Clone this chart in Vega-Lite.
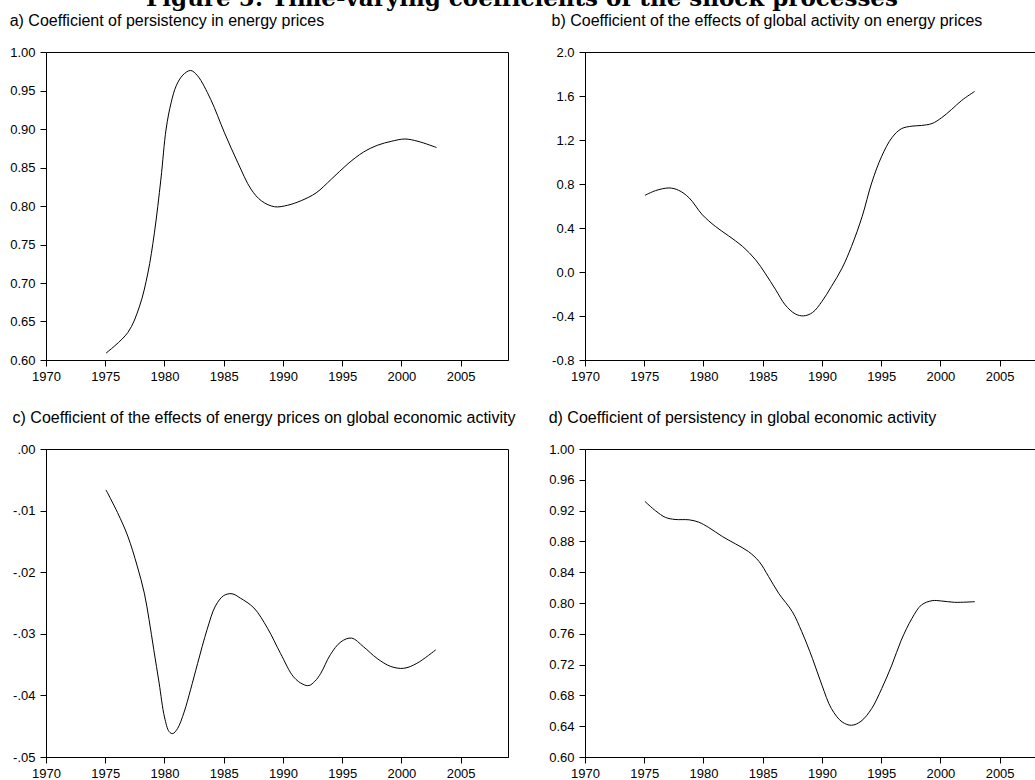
{
  "$schema": "https://vega.github.io/schema/vega-lite/v6.json",
  "padding": {"left": 9, "top": -13, "right": 0, "bottom": 0},
  "background": "white",
  "title": {"text": "Figure 5: Time-varying coefficients of the shock processes", "font": "DejaVu Serif", "fontSize": 23, "fontWeight": "bold", "color": "black", "anchor": "start", "frame": "group", "dx": 100, "offset": 2},
  "bounds": "flush",
  "columns": 2,
  "spacing": {"row": 89, "column": 77},
  "datasets": {
    "a": [
      {"year": 1975.07, "v": 0.609}, {"year": 1976.9, "v": 0.6355}, {"year": 1977.9, "v": 0.670}, {"year": 1978.6, "v": 0.713},
      {"year": 1979.15, "v": 0.765}, {"year": 1979.7, "v": 0.835}, {"year": 1980.14, "v": 0.900}, {"year": 1980.56, "v": 0.934},
      {"year": 1980.99, "v": 0.956}, {"year": 1981.55, "v": 0.970}, {"year": 1982.2, "v": 0.976}, {"year": 1982.8, "v": 0.969}, {"year": 1983.9, "v": 0.9385},
      {"year": 1985.07, "v": 0.895}, {"year": 1986.2, "v": 0.856}, {"year": 1987.3, "v": 0.822}, {"year": 1988.2, "v": 0.8065},
      {"year": 1989.3, "v": 0.799}, {"year": 1990.4, "v": 0.801}, {"year": 1991.55, "v": 0.807}, {"year": 1992.8, "v": 0.817},
      {"year": 1994.1, "v": 0.835}, {"year": 1995.5, "v": 0.855}, {"year": 1996.8, "v": 0.870}, {"year": 1998.0, "v": 0.879},
      {"year": 1999.15, "v": 0.884}, {"year": 2000.3, "v": 0.887}, {"year": 2001.4, "v": 0.884}, {"year": 2002.96, "v": 0.876}
    ],
    "b": [
      {"year": 1975.06, "v": 0.697}, {"year": 1975.96, "v": 0.740}, {"year": 1977.1, "v": 0.764}, {"year": 1977.9, "v": 0.743},
      {"year": 1978.8, "v": 0.673}, {"year": 1979.9, "v": 0.521}, {"year": 1981.0, "v": 0.415}, {"year": 1982.1, "v": 0.330},
      {"year": 1983.3, "v": 0.233}, {"year": 1984.4, "v": 0.111}, {"year": 1985.2, "v": -0.010}, {"year": 1986.1, "v": -0.162},
      {"year": 1986.9, "v": -0.299}, {"year": 1987.75, "v": -0.381}, {"year": 1988.45, "v": -0.399}, {"year": 1989.2, "v": -0.369},
      {"year": 1990.0, "v": -0.268}, {"year": 1990.8, "v": -0.132}, {"year": 1991.7, "v": 0.035}, {"year": 1992.5, "v": 0.233},
      {"year": 1993.4, "v": 0.506}, {"year": 1994.2, "v": 0.810}, {"year": 1995.05, "v": 1.053}, {"year": 1995.9, "v": 1.220},
      {"year": 1996.7, "v": 1.302}, {"year": 1997.6, "v": 1.326}, {"year": 1998.4, "v": 1.332}, {"year": 1999.3, "v": 1.350},
      {"year": 2000.1, "v": 1.402}, {"year": 2000.95, "v": 1.478}, {"year": 2001.8, "v": 1.560}, {"year": 2002.9, "v": 1.642}
    ],
    "c": [
      {"year": 1975.06, "v": -0.00663}, {"year": 1976.04, "v": -0.01033}, {"year": 1976.9, "v": -0.01413}, {"year": 1977.7, "v": -0.0190},
      {"year": 1978.3, "v": -0.0234}, {"year": 1978.7, "v": -0.0277}, {"year": 1979.1, "v": -0.0326}, {"year": 1979.55, "v": -0.0380},
      {"year": 1980.0, "v": -0.0435}, {"year": 1980.4, "v": -0.0459}, {"year": 1980.7, "v": -0.0462}, {"year": 1981.1, "v": -0.0454},
      {"year": 1981.66, "v": -0.0427}, {"year": 1982.2, "v": -0.0391}, {"year": 1982.8, "v": -0.0348}, {"year": 1983.6, "v": -0.0293},
      {"year": 1984.3, "v": -0.0255}, {"year": 1985.0, "v": -0.0238}, {"year": 1985.7, "v": -0.0235}, {"year": 1986.4, "v": -0.0242},
      {"year": 1987.55, "v": -0.0258}, {"year": 1988.7, "v": -0.0291}, {"year": 1989.8, "v": -0.0332}, {"year": 1990.9, "v": -0.0370},
      {"year": 1991.7, "v": -0.0382}, {"year": 1992.2, "v": -0.0384}, {"year": 1992.7, "v": -0.0377}, {"year": 1993.2, "v": -0.0364}, {"year": 1994.0, "v": -0.0334},
      {"year": 1994.9, "v": -0.0313}, {"year": 1995.8, "v": -0.0307}, {"year": 1996.8, "v": -0.0321}, {"year": 1997.95, "v": -0.0340},
      {"year": 1999.1, "v": -0.0353}, {"year": 2000.2, "v": -0.0356}, {"year": 2001.3, "v": -0.0348}, {"year": 2002.9, "v": -0.0326}
    ],
    "d": [
      {"year": 1975.06, "v": 0.9319}, {"year": 1975.96, "v": 0.9197}, {"year": 1976.8, "v": 0.9111}, {"year": 1977.6, "v": 0.9085},
      {"year": 1978.8, "v": 0.9080}, {"year": 1979.6, "v": 0.905}, {"year": 1980.45, "v": 0.898}, {"year": 1981.6, "v": 0.8863},
      {"year": 1982.7, "v": 0.8768}, {"year": 1983.8, "v": 0.8668}, {"year": 1984.7, "v": 0.8538}, {"year": 1985.5, "v": 0.8343},
      {"year": 1986.35, "v": 0.8126}, {"year": 1987.5, "v": 0.7887}, {"year": 1988.3, "v": 0.7627}, {"year": 1989.2, "v": 0.7280},
      {"year": 1990.0, "v": 0.6933}, {"year": 1990.8, "v": 0.6629}, {"year": 1991.7, "v": 0.6456}, {"year": 1992.5, "v": 0.6412},
      {"year": 1993.3, "v": 0.6464}, {"year": 1994.2, "v": 0.6629}, {"year": 1995.05, "v": 0.6889}, {"year": 1995.9, "v": 0.7193},
      {"year": 1996.7, "v": 0.7518}, {"year": 1997.6, "v": 0.7800}, {"year": 1998.4, "v": 0.7974}, {"year": 1999.3, "v": 0.8030},
      {"year": 2000.1, "v": 0.8026}, {"year": 2001.2, "v": 0.8009}, {"year": 2002.9, "v": 0.8017}
    ]
  },
  "concat": [
    {
      "data": {"name": "a"}, "width": 462, "height": 308,
      "title": {"text": "a) Coefficient of persistency in energy prices"},
      "mark": {"type": "line", "color": "black", "strokeWidth": 1, "interpolate": "catmull-rom"},
      "encoding": {
        "x": {"field": "year", "type": "quantitative", "scale": {"domain": [1970, 2009], "nice": false, "zero": false}},
        "y": {"field": "v", "type": "quantitative", "scale": {"domain": [0.6, 1.0], "nice": false, "zero": false},
              "axis": {"values": [0.6, 0.65, 0.7, 0.75, 0.8, 0.85, 0.9, 0.95, 1.0], "format": ".2f"}}
      }
    },
    {
      "data": {"name": "b"}, "width": 462, "height": 308,
      "title": {"text": "b) Coefficient of the effects of global activity on energy prices"},
      "mark": {"type": "line", "color": "black", "strokeWidth": 1, "interpolate": "catmull-rom"},
      "encoding": {
        "x": {"field": "year", "type": "quantitative", "scale": {"domain": [1970, 2009], "nice": false, "zero": false}},
        "y": {"field": "v", "type": "quantitative", "scale": {"domain": [-0.8, 2.0], "nice": false, "zero": false},
              "axis": {"values": [-0.8, -0.4, 0.0, 0.4, 0.8, 1.2, 1.6, 2.0], "labelExpr": "replace(format(datum.value, '.1f'), '\u2212', '-')"}}
      }
    },
    {
      "data": {"name": "c"}, "width": 462, "height": 308,
      "title": {"text": "c) Coefficient of the effects of energy prices on global economic activity"},
      "mark": {"type": "line", "color": "black", "strokeWidth": 1, "interpolate": "catmull-rom"},
      "encoding": {
        "x": {"field": "year", "type": "quantitative", "scale": {"domain": [1970, 2009], "nice": false, "zero": false}},
        "y": {"field": "v", "type": "quantitative", "scale": {"domain": [-0.05, 0.0], "nice": false, "zero": false},
              "axis": {"values": [-0.05, -0.04, -0.03, -0.02, -0.01, 0.0], "labelExpr": "replace(replace(format(datum.value, '.2f'), '\u2212', '-'), '0.', '.')"}}
      }
    },
    {
      "data": {"name": "d"}, "width": 462, "height": 308,
      "title": {"text": "d) Coefficient of persistency in global economic activity"},
      "mark": {"type": "line", "color": "black", "strokeWidth": 1, "interpolate": "catmull-rom"},
      "encoding": {
        "x": {"field": "year", "type": "quantitative", "scale": {"domain": [1970, 2009], "nice": false, "zero": false}},
        "y": {"field": "v", "type": "quantitative", "scale": {"domain": [0.6, 1.0], "nice": false, "zero": false},
              "axis": {"values": [0.6, 0.64, 0.68, 0.72, 0.76, 0.8, 0.84, 0.88, 0.92, 0.96, 1.0], "format": ".2f"}}
      }
    }
  ],
  "config": {
    "view": {"stroke": "black", "strokeWidth": 1},
    "title": {"font": "Liberation Sans", "fontSize": 16, "fontWeight": "normal", "color": "black", "anchor": "start", "frame": "bounds", "offset": 17},
    "axis": {"grid": false, "title": null, "domainColor": "black", "tickColor": "black", "labelColor": "black", "labelFont": "Liberation Sans", "labelFontSize": 13, "labelPadding": 5, "tickSize": 6},
    "axisX": {
      "values": [1970,1971,1972,1973,1974,1975,1976,1977,1978,1979,1980,1981,1982,1983,1984,1985,1986,1987,1988,1989,1990,1991,1992,1993,1994,1995,1996,1997,1998,1999,2000,2001,2002,2003,2004,2005,2006,2007,2008],
      "labelExpr": "datum.value % 5 === 0 ? format(datum.value, 'd') : ''",
      "tickSize": {"condition": {"test": "datum.value % 5 === 0", "value": 6}, "value": 4},
      "labelPadding": 4,
      "labelOverlap": false,
      "labelFlush": false
    }
  }
}
